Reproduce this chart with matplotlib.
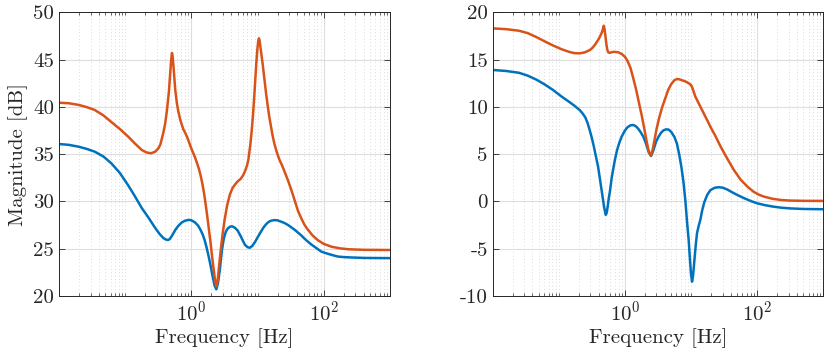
import numpy as np
import matplotlib
matplotlib.use("Agg")
import matplotlib.pyplot as plt
from matplotlib.ticker import LogLocator, NullFormatter

plt.rcParams['font.family'] = 'serif'
plt.rcParams['font.serif'] = ['cmr10']
plt.rcParams['mathtext.fontset'] = 'cm'
plt.rcParams['axes.formatter.use_mathtext'] = True
plt.rcParams['axes.unicode_minus'] = False

# values: (log10 of frequency in Hz, magnitude in dB)
left_blue = [
    (-2.0, 36.07), (-1.85, 35.98), (-1.7, 35.78), (-1.58, 35.55), (-1.46, 35.26),
    (-1.33, 34.75), (-1.21, 34.03), (-1.08, 33.0), (-0.955, 31.7), (-0.85, 30.5),
    (-0.75, 29.3), (-0.65, 28.3), (-0.548, 27.2), (-0.48, 26.55), (-0.42, 26.1),
    (-0.38, 25.95), (-0.355, 25.92), (-0.33, 26.0), (-0.30, 26.3), (-0.27, 26.65),
    (-0.244, 26.98), (-0.2, 27.4), (-0.15, 27.75), (-0.1, 27.95), (-0.04, 28.05),
    (0.0, 28.0), (0.05, 27.8), (0.1, 27.45), (0.137, 27.0), (0.17, 26.5),
    (0.20, 25.9), (0.23, 25.1), (0.26, 24.2), (0.29, 23.2), (0.32, 22.1),
    (0.35, 21.1), (0.376, 20.7), (0.40, 21.3), (0.43, 22.8), (0.46, 24.8),
    (0.49, 26.1), (0.52, 26.8), (0.55, 27.15), (0.59, 27.35), (0.62, 27.35),
    (0.66, 27.2), (0.70, 26.9), (0.746, 26.3), (0.78, 25.8), (0.81, 25.4),
    (0.85, 25.15), (0.883, 25.1), (0.92, 25.3), (0.96, 25.7), (1.0, 26.2),
    (1.05, 26.8), (1.09, 27.25), (1.13, 27.6), (1.17, 27.85), (1.2, 27.95),
    (1.25, 28.02), (1.3, 28.0), (1.355, 27.86), (1.41, 27.7), (1.46, 27.5),
    (1.51, 27.25), (1.56, 27.0), (1.61, 26.7), (1.66, 26.4), (1.71, 26.05),
    (1.76, 25.74), (1.81, 25.45), (1.86, 25.2), (1.91, 24.95), (1.96, 24.7),
    (2.02, 24.55), (2.09, 24.4), (2.16, 24.26), (2.22, 24.16), (2.32, 24.1),
    (2.42, 24.07), (2.62, 24.02), (2.8, 24.01), (3.0, 24.0),
]

left_orange = [
    (-2.0, 40.44), (-1.85, 40.38), (-1.7, 40.2), (-1.58, 39.97), (-1.46, 39.67),
    (-1.33, 39.1), (-1.21, 38.4), (-1.08, 37.65), (-0.955, 36.85), (-0.85, 36.1),
    (-0.75, 35.44), (-0.68, 35.18), (-0.61, 35.09), (-0.55, 35.25), (-0.5, 35.6),
    (-0.47, 36.0), (-0.44, 36.8), (-0.42, 37.4), (-0.396, 38.26), (-0.37, 39.6),
    (-0.34, 41.6), (-0.32, 43.6), (-0.305, 45.0), (-0.294, 45.7), (-0.285, 45.4),
    (-0.27, 44.2), (-0.255, 42.8), (-0.244, 41.8), (-0.22, 40.4), (-0.2, 39.6),
    (-0.167, 38.6), (-0.14, 38.0), (-0.12, 37.6), (-0.09, 37.2), (-0.065, 36.8),
    (-0.04, 36.35), (-0.015, 35.85), (0.01, 35.4), (0.035, 35.0), (0.06, 34.55),
    (0.087, 34.0), (0.115, 33.4), (0.14, 32.7), (0.165, 31.9), (0.19, 30.9),
    (0.215, 29.7), (0.24, 28.4), (0.265, 27.0), (0.29, 25.6), (0.315, 24.0),
    (0.34, 22.6), (0.36, 21.5), (0.376, 21.0), (0.395, 21.6), (0.42, 23.3),
    (0.445, 25.0), (0.467, 26.3), (0.5, 28.0), (0.54, 29.6), (0.58, 30.7),
    (0.62, 31.4), (0.66, 31.8), (0.696, 32.1), (0.746, 32.4), (0.78, 32.75),
    (0.81, 33.2), (0.84, 33.8), (0.86, 34.4), (0.873, 35.1), (0.89, 36.0),
    (0.91, 37.4), (0.93, 39.1), (0.95, 41.2), (0.965, 42.9), (0.98, 44.6),
    (0.995, 46.0), (1.01, 47.0), (1.02, 47.25), (1.03, 47.0), (1.045, 46.2),
    (1.06, 45.4), (1.077, 44.5), (1.095, 43.4), (1.11, 42.5), (1.13, 41.3),
    (1.153, 40.1), (1.175, 39.0), (1.2, 38.0), (1.225, 37.0), (1.253, 36.1),
    (1.29, 35.2), (1.33, 34.4), (1.37, 33.8), (1.41, 33.1), (1.46, 32.2),
    (1.51, 31.2), (1.56, 30.1), (1.61, 29.0), (1.66, 28.2), (1.71, 27.5),
    (1.76, 27.0), (1.83, 26.4), (1.91, 25.9), (2.0, 25.5), (2.12, 25.2),
    (2.25, 25.03), (2.37, 24.94), (2.6, 24.88), (3.0, 24.86),
]

right_blue = [
    (-2.0, 13.9), (-1.8, 13.8), (-1.6, 13.6), (-1.47, 13.3), (-1.345, 12.9),
    (-1.22, 12.4), (-1.09, 11.8), (-0.96, 11.1), (-0.837, 10.5), (-0.76, 10.1),
    (-0.685, 9.67), (-0.64, 9.3), (-0.6, 8.9), (-0.565, 8.3), (-0.533, 7.55),
    (-0.5, 6.7), (-0.47, 5.8), (-0.44, 4.8), (-0.406, 3.67), (-0.37, 2.0),
    (-0.34, 0.6), (-0.315, -0.6), (-0.29, -1.43), (-0.275, -1.2), (-0.26, -0.5),
    (-0.245, 0.3), (-0.228, 1.0), (-0.2, 2.5), (-0.175, 3.5), (-0.152, 4.38),
    (-0.12, 5.4), (-0.085, 6.2), (-0.05, 6.84), (0.0, 7.5), (0.04, 7.85),
    (0.085, 8.05), (0.127, 8.08), (0.165, 7.95), (0.2, 7.7), (0.24, 7.3),
    (0.279, 6.84), (0.32, 6.1), (0.36, 5.2), (0.396, 4.8), (0.43, 5.4),
    (0.47, 6.3), (0.508, 6.84), (0.545, 7.25), (0.58, 7.5), (0.62, 7.62),
    (0.66, 7.6), (0.7, 7.35), (0.75, 6.8), (0.787, 6.1), (0.82, 5.0),
    (0.855, 3.6), (0.888, 1.9), (0.915, 0.0), (0.94, -2.2), (0.964, -4.08),
    (0.985, -6.3), (1.0, -7.7), (1.015, -8.49), (1.03, -7.9), (1.05, -6.3),
    (1.07, -4.7), (1.09, -3.37), (1.115, -2.6), (1.142, -1.9), (1.17, -0.9),
    (1.2, -0.1), (1.245, 0.7), (1.294, 1.2), (1.36, 1.45), (1.42, 1.5),
    (1.48, 1.45), (1.55, 1.25), (1.62, 0.97), (1.7, 0.68), (1.8, 0.35),
    (1.9, 0.05), (2.0, -0.2), (2.12, -0.4), (2.24, -0.55), (2.36, -0.66),
    (2.5, -0.74), (2.7, -0.8), (3.0, -0.83),
]

right_orange = [
    (-2.0, 18.3), (-1.8, 18.22), (-1.6, 18.05), (-1.47, 17.8), (-1.345, 17.4),
    (-1.22, 16.95), (-1.09, 16.5), (-0.96, 16.1), (-0.837, 15.8), (-0.76, 15.68),
    (-0.685, 15.66), (-0.61, 15.76), (-0.533, 16.0), (-0.49, 16.25), (-0.45, 16.6),
    (-0.406, 17.07), (-0.38, 17.4), (-0.35, 17.85), (-0.33, 18.3), (-0.32, 18.58),
    (-0.31, 18.3), (-0.295, 17.5), (-0.28, 16.6), (-0.265, 16.0), (-0.25, 15.75),
    (-0.228, 15.72), (-0.2, 15.78), (-0.17, 15.82), (-0.13, 15.8), (-0.1, 15.77),
    (-0.05, 15.6), (0.0, 15.3), (0.04, 14.85), (0.085, 14.1), (0.127, 13.0),
    (0.17, 11.8), (0.21, 10.5), (0.254, 9.1), (0.29, 7.8), (0.33, 6.3),
    (0.36, 5.3), (0.39, 4.84), (0.42, 5.5), (0.45, 6.6), (0.48, 7.7),
    (0.52, 8.9), (0.565, 10.0), (0.61, 10.9), (0.655, 11.8), (0.7, 12.4),
    (0.745, 12.8), (0.787, 12.95), (0.83, 12.9), (0.87, 12.8), (0.91, 12.7),
    (0.94, 12.6), (0.975, 12.45), (1.0, 12.3), (1.015, 12.1), (1.04, 11.6),
    (1.066, 11.07), (1.1, 10.6), (1.15, 9.9), (1.2, 9.2), (1.244, 8.6),
    (1.3, 7.8), (1.37, 6.9), (1.447, 5.8), (1.55, 4.5), (1.65, 3.3),
    (1.75, 2.3), (1.853, 1.56), (1.95, 1.0), (2.03, 0.7), (2.106, 0.5),
    (2.23, 0.28), (2.36, 0.15), (2.5, 0.09), (2.7, 0.06), (3.0, 0.05),
]

left_yticks = [20, 25, 30, 35, 40, 45, 50]
right_yticks = [-10, -5, 0, 5, 10, 15, 20]

blue = '#0072BD'
orange = '#D95319'
dark = '#262626'

fig = plt.figure(figsize=(8.3, 3.57), dpi=100)
ax1 = fig.add_axes([0.0711, 0.171, 0.3988, 0.7945])
ax2 = fig.add_axes([0.5936, 0.171, 0.3983, 0.7945])

for ax, curve_b, curve_o, yt in [(ax1, left_blue, left_orange, left_yticks),
                                 (ax2, right_blue, right_orange, right_yticks)]:
    for curve, c in [(curve_b, blue), (curve_o, orange)]:
        lf, mag = zip(*curve)
        ax.plot(10 ** np.array(lf), mag, color=c, lw=1.8)
    ax.set_xscale('log')
    ax.set_xlim(1e-2, 1e3)
    ax.set_ylim(yt[0], yt[-1])
    ax.set_yticks(yt)
    ax.set_yticklabels([str(v) for v in yt])
    ax.set_xticks([1, 100])
    ax.xaxis.set_minor_locator(LogLocator(base=10, subs=np.arange(1, 10), numticks=20))
    ax.xaxis.set_minor_formatter(NullFormatter())
    ax.grid(which='major', color='#dedede', lw=0.8)
    ax.grid(which='minor', axis='x', color='#cfcfcf', lw=0.6, ls=(0, (1, 3)))
    ax.set_axisbelow(True)
    ax.tick_params(which='both', direction='in', top=True, right=True,
                   colors=dark, labelsize=15)
    ax.tick_params(which='major', length=4, width=0.6)
    ax.tick_params(which='minor', length=2, width=0.5)
    for s in ax.spines.values():
        s.set_color(dark)
        s.set_linewidth(0.7)
    ax.set_xlabel('Frequency [Hz]', fontsize=15, color=dark, labelpad=2)

ax1.set_ylabel('Magnitude [dB]', fontsize=15, color=dark, labelpad=4)

fig.savefig('out.png', dpi=100)
